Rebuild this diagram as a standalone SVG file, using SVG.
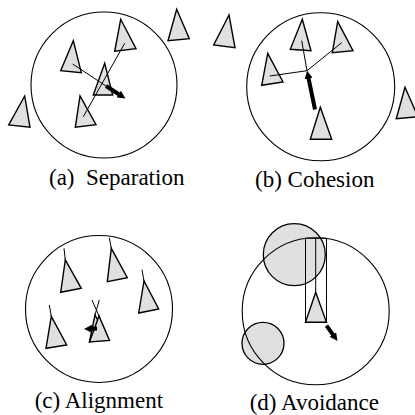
<svg xmlns="http://www.w3.org/2000/svg" width="415" height="415" viewBox="0 0 415 415">
<style>
.bg{fill:#fff}
.range{fill:none;stroke:#000;stroke-width:1.1}
.boid{fill:#e0e0e0;stroke:#000;stroke-width:1.4;stroke-linejoin:miter}
.obst{fill:#e0e0e0;stroke:#000;stroke-width:1.3}
.thin{fill:none;stroke:#000;stroke-width:1}
.force{fill:none;stroke:#000;stroke-width:4;marker-end:url(#head)}
.label{font-family:"Liberation Serif","Times New Roman",serif;font-size:23px;fill:#000}
</style>
<defs>
<marker id="head" markerUnits="userSpaceOnUse" markerWidth="9" markerHeight="8" refX="2" refY="4" orient="auto">
<path d="M0,0 L8,4 L0,8 z" fill="#000"/>
</marker>
</defs>
<rect class="bg" width="415" height="415"/>

<g id="panel-a">
<circle class="range" cx="104" cy="85" r="73"/>
<g id="a-boid-out1"><polygon class="boid" points="176.7,9.3 168,40.7 189.3,38.7"/></g>
<g id="a-boid-out2"><polygon class="boid" points="24.7,96 8.7,125 30,127.3"/></g>
<g id="a-boid-1"><polygon class="boid" points="73.3,40.7 60.7,70.7 81.3,72.7"/></g>
<g id="a-boid-2"><polygon class="boid" points="120.7,19.3 114.7,51.3 136,48.7"/></g>
<g id="a-boid-c"><polygon class="boid" points="104.7,63.3 93.3,95 112.7,95"/></g>
<g id="a-boid-4"><polygon class="boid" points="80,96 75.3,127.3 96,124.7"/></g>
<text class="label" x="49" y="185" xml:space="preserve">(a)  Separation</text>
</g>

<g id="panel-b">
<circle class="range" cx="320.7" cy="86.7" r="74"/>
<g id="b-boid-out1"><polygon class="boid" points="229,15 213.7,45 235,47.7"/></g>
<g id="b-boid-out2"><polygon class="boid" points="405,87.3 396.3,118.7 418,116.7"/></g>
<g id="b-boid-1"><polygon class="boid" points="302.3,19.3 290.3,49.3 311,50.7"/></g>
<g id="b-boid-2"><polygon class="boid" points="337.7,21.7 332.3,52.7 353,50.7"/></g>
<g id="b-boid-3"><polygon class="boid" points="267.7,53.3 261.7,85.3 283,82"/></g>
<g id="b-boid-c"><polygon class="boid" points="320.3,107.3 310.3,139.3 331.7,139.3"/></g>
<text class="label" x="255" y="186.5">(b) Cohesion</text>
</g>

<g id="panel-c">
<circle class="range" cx="99" cy="309" r="73.5"/>
<g id="c-boid-1"><polygon class="boid" points="65.3,260 60.7,292.3 81.3,288.3"/></g>
<g id="c-boid-2"><polygon class="boid" points="111.3,248.3 107.3,281.7 127.3,277.7"/></g>
<g id="c-boid-3"><polygon class="boid" points="144,281 138.7,313 158.7,309"/></g>
<g id="c-boid-4"><polygon class="boid" points="51.3,316.3 46,348.3 66.7,345"/></g>
<g id="c-boid-c"><polygon class="boid" points="95,315 89.5,341.5 107,338"/><polygon class="boid" points="99,316 89.5,342 109.5,340.5"/></g>
<text class="label" x="34.7" y="408">(c) Alignment</text>
</g>

<g id="panel-d">
<g id="d-obstacle-1"><circle class="obst" cx="294.3" cy="254.7" r="31"/></g>
<g id="d-obstacle-2"><circle class="obst" cx="263" cy="343.3" r="21"/></g>
<circle class="range" cx="315.7" cy="311.3" r="73.5"/>
<g id="d-probe"><rect class="thin" x="305.5" y="238.3" width="21" height="84" stroke-width="1.3"/></g>
<g id="d-boid"><polygon class="boid" points="315.7,292.3 305.5,322.3 326.5,322.3"/></g>
<text class="label" x="249.7" y="410">(d) Avoidance</text>
</g>

<g id="connectors">
<line class="thin" x1="72.7" y1="64" x2="106" y2="86"/>
<line class="thin" x1="124.7" y1="43.3" x2="83.3" y2="116.7"/>
<line class="force" x1="106" y1="86" x2="120.4" y2="95.2"/>
<line class="thin" x1="301.7" y1="40.7" x2="307" y2="70.7"/>
<line class="thin" x1="341.7" y1="42.7" x2="307" y2="70.7"/>
<line class="thin" x1="269.7" y1="76" x2="307" y2="70.7"/>
<line class="force" x1="315" y1="109.5" x2="308.2" y2="76.6"/>
<line class="thin" x1="65.3" y1="260" x2="64" y2="248.3"/>
<line class="thin" x1="111.3" y1="248.3" x2="109.3" y2="237.7"/>
<line class="thin" x1="144" y1="281" x2="142" y2="269.7"/>
<line class="thin" x1="51.3" y1="316.3" x2="49.3" y2="305"/>
<line class="thin" x1="92" y1="300" x2="99" y2="316"/>
<line class="thin" x1="99.3" y1="300" x2="95" y2="315"/>
<line class="force" x1="97" y1="328.5" x2="90" y2="328.8"/>
<line class="thin" x1="315.7" y1="238.3" x2="315.7" y2="292.3" stroke-width="1.3"/>
<line class="force" x1="326.5" y1="325.7" x2="334" y2="336.1"/>
</g>
</svg>
